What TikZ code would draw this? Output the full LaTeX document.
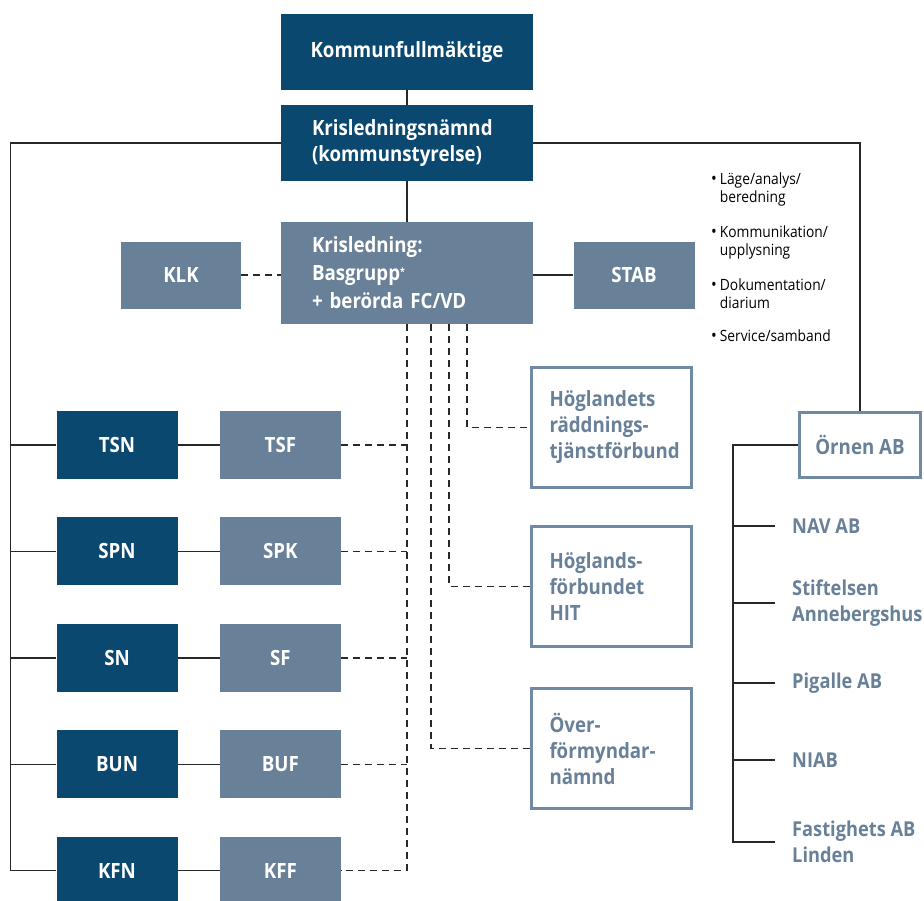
\documentclass[tikz,border=0pt]{standalone}
\usepackage{fontspec}
\setmainfont{Open Sans}[FakeStretch=0.89]
\usetikzlibrary{positioning}
\definecolor{navy}{RGB}{10,72,112}
\definecolor{slate}{RGB}{104,128,152}
\definecolor{frame}{RGB}{112,138,164}
\definecolor{wire}{RGB}{40,40,40}
\newcommand{\dotmark}{\raisebox{0.5pt}{\fontsize{17}{17}\selectfont\textbullet}}

\begin{document}
\begin{tikzpicture}[x=1pt, y=-1pt,
    box/.style={inner sep=0pt, font=\bfseries\fontsize{21}{26}\selectfont},
    darkbox/.style={box, fill=navy, text=white, minimum width=121pt, minimum height=68pt},
    lightbox/.style={box, fill=slate, text=white, minimum width=121pt, minimum height=68pt},
    topbox/.style={box, text=white, text width=190pt, inner xsep=31pt, align=left},
    framebox/.style={box, draw=frame, line width=3pt, text=slate, text width=124pt, inner xsep=18pt, align=left, minimum height=120pt},
    company/.style={box, text=slate, anchor=west, align=left, inner xsep=17pt, font=\bfseries\fontsize{20.5}{26}\selectfont},
    link/.style={draw=wire, line width=1.4pt},
    dashlink/.style={link, dash pattern=on 7pt off 5pt}]
    \useasboundingbox (0,0) rectangle (924,900);

    % ledning
    \node[box, fill=navy, text=white, minimum width=252pt, minimum height=76pt] (kf) at (407,52) {Kommunfullmäktige};
    \node[topbox, fill=navy, minimum height=76pt] (kln) at (407,143) {Krisledningsnämnd\\(kommunstyrelse)};
    \node[topbox, fill=slate, minimum height=102pt, font=\bfseries\fontsize{21}{28}\selectfont] (krl) at (407,273) {Krisledning:\\Basgrupp\raisebox{5pt}{\fontsize{10}{10}\selectfont*}\\+ berörda FC/VD};
    \node[lightbox, minimum width=120pt, minimum height=67pt] (klk) at (181,275) {KLK};
    \node[lightbox, minimum height=67pt] (stab) at (634,275) {STAB};
    \node[anchor=north west, inner sep=0pt, text=black, font=\fontsize{15.5}{18}\selectfont] (tasks) at (711,172) {%
        \begin{tabular}{@{}l@{\hspace{3pt}}l@{}}
        \dotmark & Läge/analys/\\ & beredning\\[17pt]
        \dotmark & Kommunikation/\\ & upplysning\\[17pt]
        \dotmark & Dokumentation/\\ & diarium\\[15pt]
        \dotmark & Service/samband
        \end{tabular}};

    % nämnder och förvaltningar
    \node[darkbox] (tsn) at (117,445) {TSN};
    \node[lightbox, right=42pt of tsn] (tsf) {TSF};
    \node[darkbox, below=38pt of tsn] (spn) {SPN};
    \node[lightbox, right=42pt of spn] (spk) {SPK};
    \node[darkbox, below=38pt of spn] (sn) {SN};
    \node[lightbox, right=42pt of sn] (sf) {SF};
    \node[darkbox, below=38pt of sn] (bun) {BUN};
    \node[lightbox, right=42pt of bun] (buf) {BUF};
    \node[darkbox, below=38pt of bun] (kfn) {KFN};
    \node[lightbox, right=42pt of kfn] (kff) {KFF};

    % förbund
    \node[framebox] (hrf) at (611.5,427.5) {Höglandets\\räddnings-\\tjänstförbund};
    \node[framebox] (hit) at (611.5,586.5) {Höglands-\\förbundet\\HIT};
    \node[framebox] (ofn) at (611.5,748.5) {Över-\\förmyndar-\\nämnd};

    % bolag
    \node[box, draw=frame, line width=3pt, text=slate, minimum width=121pt, minimum height=65pt] (ornen) at (860,445) {Örnen AB};
    \node[company] (nav) at (775,526) {NAV AB};
    \node[company] (stift) at (775,603) {Stiftelsen\\Annebergshus};
    \node[company] (pig) at (775,683) {Pigalle AB};
    \node[company] (niab) at (775,760) {NIAB};
    \node[company] (fab) at (775,842) {Fastighets AB\\Linden};

    \draw[link] (kf) -- (kln);
    \draw[link] (kln) -- (krl);
    \draw[dashlink] (klk.east) -- (klk.east -| krl.west);
    \draw[link] (krl.east |- stab.west) -- (stab.west);

    \path (kfn.west) ++(-46pt,0pt) coordinate (lbus);
    \draw[link] (kln.west) -| (lbus) -- (kfn.west);
    \foreach \n in {tsn,spn,sn,bun}
        \draw[link] (lbus |- \n.west) -- (\n.west);
    \foreach \a/\b in {tsn/tsf,spn/spk,sn/sf,bun/buf,kfn/kff}
        \draw[link] (\a) -- (\b);

    \coordinate (vbus) at ([xshift=126pt]krl.south west);
    \draw[dashlink] (vbus) |- (kff.east);
    \foreach \n in {tsf,spk,sf,buf}
        \draw[dashlink] (\n.east) -- (\n.east -| vbus);
    \draw[dashlink] ([xshift=186pt]krl.south west) |- (hrf.west);
    \draw[dashlink] ([xshift=168pt]krl.south west) |- (hit.west);
    \draw[dashlink] ([xshift=150pt]krl.south west) |- (ofn.west);

    \draw[link] (kln.east) -| (ornen.north);
    \path (fab.west) ++(-42pt,0pt) coordinate (rbus);
    \draw[link] (ornen.west) -| (rbus) -- (fab.west);
    \foreach \n in {nav,stift,pig,niab}
        \draw[link] (rbus |- \n.west) -- (\n.west);
\end{tikzpicture}
\end{document}
